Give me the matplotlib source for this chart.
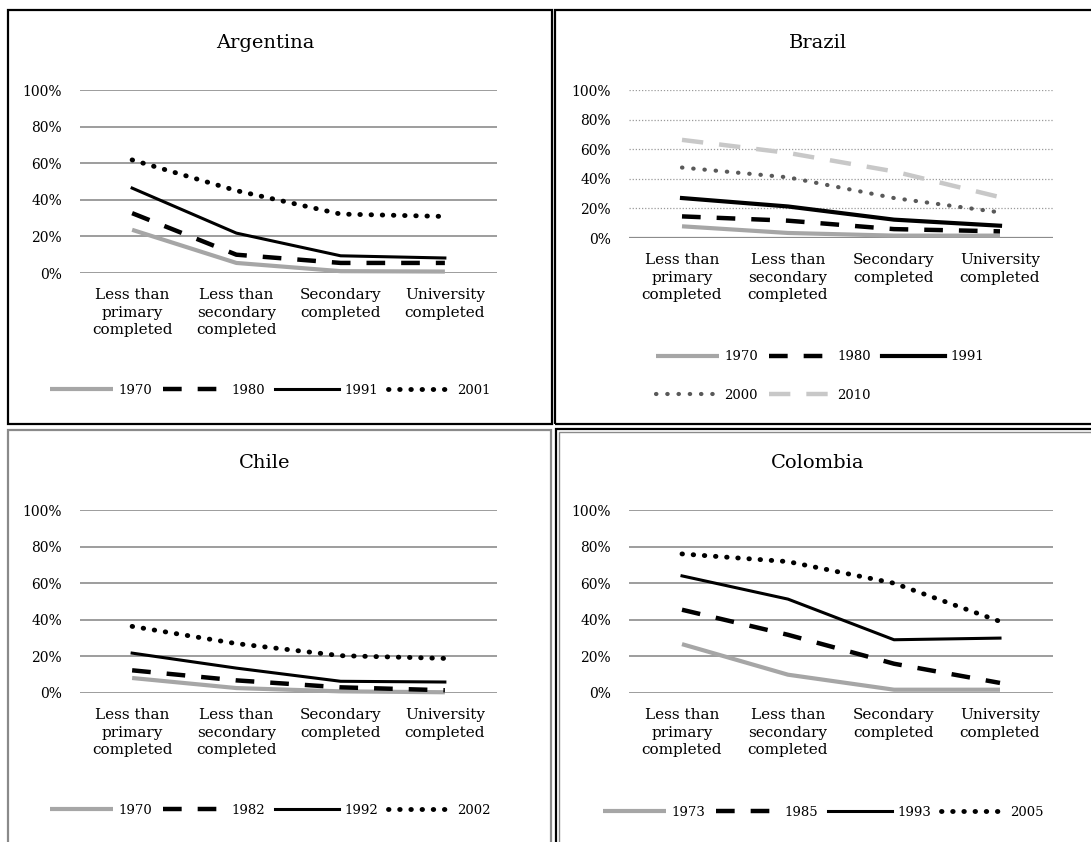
"""Four-panel line chart: share by education level, Argentina / Brazil / Chile / Colombia."""

import matplotlib

matplotlib.use("Agg")
import matplotlib.pyplot as plt
from matplotlib.patches import Rectangle
from matplotlib.ticker import FuncFormatter

W, H = 1091, 842

CATS = ["Less than\nprimary\ncompleted", "Less than\nsecondary\ncompleted",
        "Secondary\ncompleted", "University\ncompleted"]
YTICKS = [0, 20, 40, 60, 80, 100]

ARG_YEARS = ["1970", "1980", "1991", "2001"]
ARG_VALS = [
    [23.6, 5.5, 1.0, 0.8],
    [32.7, 10.0, 5.5, 5.5],
    [46.4, 21.8, 9.4, 8.2],
    [61.8, 45.0, 32.2, 30.9],
]

BRA_YEARS = ["1970", "1980", "1991", "2000", "2010"]
BRA_VALS = [
    [7.9, 3.4, 1.6, 1.6],
    [14.6, 11.7, 6.0, 4.5],
    [27.0, 21.3, 12.4, 8.3],
    [47.6, 41.0, 27.0, 17.3],
    [66.3, 57.5, 45.0, 27.6],
]

CHL_YEARS = ["1970", "1982", "1992", "2002"]
CHL_VALS = [
    [8.2, 2.7, 0.9, 0.4],
    [12.4, 6.9, 3.1, 1.5],
    [21.8, 13.6, 6.4, 6.0],
    [36.4, 27.0, 20.4, 18.9],
]

COL_YEARS = ["1973", "1985", "1993", "2005"]
COL_VALS = [
    [26.7, 10.0, 1.8, 1.8],
    [45.5, 31.8, 16.0, 5.5],
    [64.0, 51.3, 29.1, 30.0],
    [76.0, 71.8, 60.0, 39.1],
]

GREY = dict(color="#a6a6a6", lw=3.0, ls="-", solid_capstyle="butt")
DASH = dict(color="black", lw=3.2, ls=(0, (4.2, 3.6)))
SOLID = dict(color="black", lw=2.2, ls="-")
SOLID_THICK = dict(color="black", lw=3.0, ls="-")
DOT = dict(color="black", lw=3.5, ls=(0, (0.1, 2.2)), dash_capstyle="round")
DOT_GREY = dict(color="#595959", lw=3.0, ls=(0, (0.1, 2.6)), dash_capstyle="round")
LDASH = dict(color="#c8c8c8", lw=3.2, ls=(0, (4.8, 3.6)))

plt.rcParams["font.family"] = ["DejaVu Serif"]
fig = plt.figure(figsize=(W / 100, H / 100), dpi=100)


def px_axes(x0, y0, x1, y1):
    return fig.add_axes([x0 / W, 1 - y1 / H, (x1 - x0) / W, (y1 - y0) / H])


def box(x0, y0, x1, y1, color, lw=1.5):
    fig.add_artist(Rectangle((x0 / W, 1 - y1 / H), (x1 - x0) / W, (y1 - y0) / H,
                             transform=fig.transFigure, fill=False,
                             edgecolor=color, lw=lw))


def panel(area, title, title_x, title_y, years, vals, styles,
          leg_xy, ncol=4, order=None, dotted_grid=False):
    ax = px_axes(*area)
    xs = range(len(CATS))
    handles = []
    for yr, v, st in zip(years, vals, styles):
        (ln,) = ax.plot(xs, v, label=yr, clip_on=False, zorder=3, **st)
        handles.append(ln)
    ax.set_xlim(-0.5, len(CATS) - 0.5)
    ax.set_ylim(0, 100)
    ax.set_yticks(YTICKS)
    ax.yaxis.set_major_formatter(FuncFormatter(lambda v, p: f"{v:.0f}%"))
    ax.set_xticks(list(xs))
    ax.set_xticklabels(CATS, fontsize=11, linespacing=1.3)
    ax.tick_params(axis="y", length=0, pad=13, labelsize=10)
    ax.tick_params(axis="x", length=0, pad=11)
    for s in ax.spines.values():
        s.set_visible(False)
    ax.set_axisbelow(True)
    if dotted_grid:
        ax.yaxis.grid(True, color="#9a9a9a", lw=0.9, ls=(0, (1, 1.5)))
        ax.axhline(0, color="#8c8c8c", lw=1.6, zorder=1)
    else:
        ax.yaxis.grid(True, color="#8c8c8c", lw=1.2)
    fig.text(title_x / W, 1 - title_y / H, title, ha="center", va="center",
             fontsize=14)
    if order is not None:
        handles = [handles[i] for i in order]
    ax.legend(handles=handles, loc="center", ncol=ncol, frameon=False,
              bbox_to_anchor=(leg_xy[0] / W, 1 - leg_xy[1] / H),
              bbox_transform=fig.transFigure, fontsize=9.5,
              handlelength=4.8, handletextpad=0.4, columnspacing=0.8,
              labelspacing=1.9)
    return ax


std_styles = [GREY, DASH, SOLID, DOT]
panel((80, 90, 497, 273), "Argentina", 265, 43, ARG_YEARS, ARG_VALS,
      std_styles, (270, 390))
panel((629, 90, 1053, 238), "Brazil", 818, 43, BRA_YEARS, BRA_VALS,
      [GREY, DASH, SOLID_THICK, DOT_GREY, LDASH], (820, 376),
      ncol=3, order=[0, 3, 1, 4, 2], dotted_grid=True)
panel((80, 510, 497, 693), "Chile", 265, 463, CHL_YEARS, CHL_VALS,
      std_styles, (270, 810))
panel((629, 510, 1053, 693), "Colombia", 818, 463, COL_YEARS, COL_VALS,
      std_styles, (823, 812))

# panel frames
box(8, 10, 552, 424, "black", 1.6)
box(555, 10, 1100, 424, "black", 1.6)
box(8, 430, 551, 860, "#8a8a8a", 1.6)
box(556, 429, 1100, 860, "black", 1.6)
box(559, 432, 1100, 860, "#8a8a8a", 1.0)

fig.savefig("out.png", dpi=100)
